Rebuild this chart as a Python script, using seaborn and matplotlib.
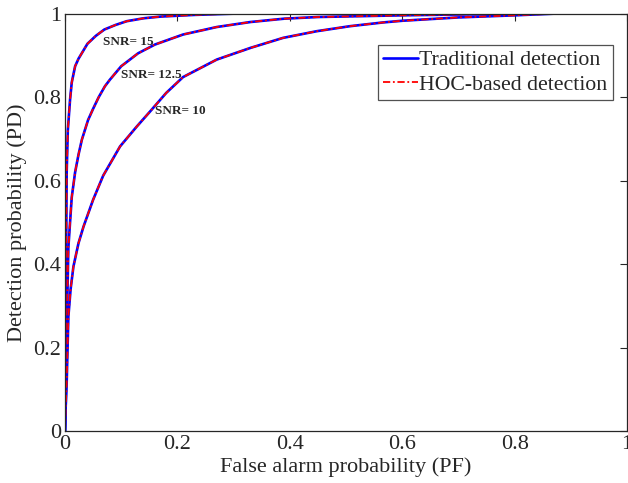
import numpy as np
import pandas as pd
import matplotlib
matplotlib.use("Agg")
import matplotlib.pyplot as plt
import seaborn as sns
from matplotlib.lines import Line2D

# ROC points (false alarm probability, detection probability) per SNR
pf_snr15 = [0.0, 0.001, 0.002, 0.003, 0.005, 0.009, 0.012, 0.018, 0.024, 0.04,
            0.055, 0.07, 0.09, 0.11, 0.14, 0.17, 0.23, 0.3, 0.5, 1.0]
pd_snr15 = [0.0, 0.12, 0.42, 0.62, 0.72, 0.794, 0.835, 0.874, 0.892, 0.928,
            0.947, 0.962, 0.973, 0.982, 0.989, 0.993, 0.997, 1.0, 1.0, 1.0]

pf_snr125 = [0.0, 0.001, 0.002, 0.003, 0.006, 0.012, 0.018, 0.024, 0.03, 0.041,
             0.05, 0.06, 0.071, 0.08, 0.1, 0.13, 0.16, 0.21, 0.27, 0.33,
             0.39, 0.45, 0.6, 0.75, 0.87, 1.0]
pd_snr125 = [0.0, 0.05, 0.12, 0.24, 0.44, 0.56, 0.62, 0.662, 0.698, 0.745,
             0.772, 0.8, 0.826, 0.842, 0.874, 0.905, 0.926, 0.95, 0.968, 0.98,
             0.988, 0.992, 0.996, 0.999, 1.0, 1.0]

pf_snr10 = [0.0, 0.001, 0.003, 0.006, 0.01, 0.015, 0.024, 0.033, 0.05, 0.068,
            0.098, 0.128, 0.151, 0.18, 0.21, 0.27, 0.33, 0.388, 0.448, 0.507,
            0.566, 0.6, 0.7, 0.8, 0.87, 1.0]
pd_snr10 = [0.0, 0.05, 0.115, 0.274, 0.34, 0.394, 0.45, 0.49, 0.554, 0.612,
            0.682, 0.73, 0.765, 0.81, 0.848, 0.89, 0.918, 0.942, 0.958, 0.97,
            0.979, 0.983, 0.991, 0.996, 1.0, 1.0]

snr_labels = ["SNR= 15", "SNR= 12.5", "SNR= 10"]
legend_labels = ["Traditional detection", "HOC-based detection"]

curves = pd.concat([
    pd.DataFrame({"PF": pf_snr15, "PD": pd_snr15, "SNR": snr_labels[0]}),
    pd.DataFrame({"PF": pf_snr125, "PD": pd_snr125, "SNR": snr_labels[1]}),
    pd.DataFrame({"PF": pf_snr10, "PD": pd_snr10, "SNR": snr_labels[2]}),
], ignore_index=True)

sns.set_style("white")
plt.rcParams["font.family"] = ["Liberation Serif", "DejaVu Serif"]

fig = plt.figure(figsize=(6.28, 4.83), dpi=100)
ax = fig.add_axes([0.1035, 0.1077, 0.895, 0.864])

dashdot = (0, (4, 1.5, 1, 1.5))
for snr in snr_labels:
    sub = curves[curves["SNR"] == snr]
    # traditional detector: solid blue
    sns.lineplot(data=sub, x="PF", y="PD", sort=False, estimator=None,
                 color="#0000ff", linewidth=1.9, ax=ax)
    # HOC-based detector: red dash-dot on top
    sns.lineplot(data=sub, x="PF", y="PD", sort=False, estimator=None,
                 color="#ff0000", linewidth=1.3, linestyle=dashdot, ax=ax)

ax.set_xlim(0, 1)
ax.set_ylim(0, 1)
ticks = np.arange(0, 1.01, 0.2)
tick_text = ["0", "0.2", "0.4", "0.6", "0.8", "1"]
ax.set_xticks(ticks)
ax.set_yticks(ticks)
ax.set_xticklabels(tick_text)
ax.set_yticklabels(tick_text)
ax.tick_params(direction="in", length=5, width=0.8, top=True, right=True,
               labelsize=16, pad=3, color="#262626")
for s in ax.spines.values():
    s.set_color("#262626")
    s.set_linewidth(0.9)

ax.set_xlabel("False alarm probability (PF)", fontsize=16, labelpad=2)
ax.set_ylabel("Detection probability (PD)", fontsize=16, labelpad=4)

ax.text(0.067, 0.925, snr_labels[0], fontsize=9.5, fontweight="bold")
ax.text(0.100, 0.845, snr_labels[1], fontsize=9.5, fontweight="bold")
ax.text(0.160, 0.760, snr_labels[2], fontsize=9.5, fontweight="bold")

handles = [
    Line2D([], [], color="#0000ff", linewidth=1.9),
    Line2D([], [], color="#ff0000", linewidth=1.3, linestyle=dashdot),
]
leg = ax.legend(handles, legend_labels, loc="upper right",
                bbox_to_anchor=(0.975, 0.926), fontsize=15.7, frameon=True,
                fancybox=False, edgecolor="#262626", handlelength=1.6,
                handletextpad=0.05, borderpad=0.25, labelspacing=0.2,
                borderaxespad=0.0)
leg.get_frame().set_linewidth(0.9)

fig.savefig("out.png", dpi=100, facecolor="white")
